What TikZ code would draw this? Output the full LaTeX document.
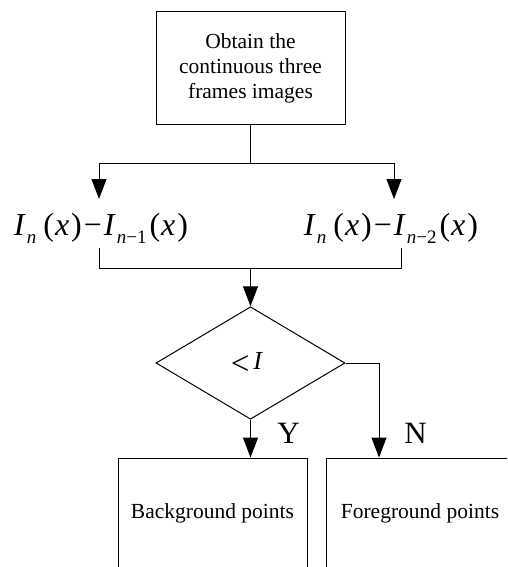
\documentclass[tikz,border=0pt]{standalone}
\usepackage{fontspec}
\setmainfont{Liberation Serif}
\usetikzlibrary{shapes.geometric,arrows.meta}
\newcommand{\subsz}[1]{\raisebox{-8pt}{\fontsize{19}{19}\selectfont #1}}
\begin{document}
\begin{tikzpicture}[x=1pt,y=-1pt,line width=1pt,
  box/.style={draw, rectangle, inner sep=0pt, line width=1pt},
  dia/.style={draw, diamond, inner sep=0pt, line width=1pt, minimum width=189pt, minimum height=112.5pt},
  lbl/.style={inner sep=0pt, font=\fontsize{21.5}{25}\selectfont, align=center},
  frm/.style={inner sep=0pt, anchor=base, font=\fontsize{32}{32}\selectfont},
  yn/.style={inner sep=0pt, anchor=base, font=\fontsize{31}{31}\selectfont},
  arr/.style={-{Triangle[width=15pt,length=20pt]}, line width=1pt}]
\useasboundingbox (0,0) rectangle (507,567);
\clip (0,0) rectangle (507,567);
% top box
\node[box, minimum width=189pt, minimum height=113pt] (top) at (250.5,68.2) {};
\node[lbl] (toptxt) at (250.5,68.5) {Obtain the\\continuous three\\frames images};
% formulas
\node[frm] (f1) at (101,235) {\textit{I}\kern1pt\subsz{\textit{n}}\kern7pt(\kern1pt\textit{x}\kern2pt)\kern2pt−\kern2pt\textit{I}\kern1pt\subsz{\textit{n}−1}\kern3pt(\kern1pt\textit{x}\kern2pt)};
\node[frm] (f2) at (391,235) {\textit{I}\kern1pt\subsz{\textit{n}}\kern7pt(\kern1pt\textit{x}\kern2pt)\kern2pt−\kern2pt\textit{I}\kern1pt\subsz{\textit{n}−2}\kern3pt(\kern1pt\textit{x}\kern2pt)};
% diamond
\node[dia] (d) at (250.5,363) {};
\node[inner sep=0pt, anchor=base, font=\fontsize{26}{26}\selectfont] (dtxt) at (247,369) {\raisebox{-5pt}{\fontsize{33}{33}\selectfont<}\kern4pt\textit{I}};
% bottom boxes
\node[box, minimum width=189pt, minimum height=150pt, anchor=north] (bg) at (212.5,457.5) {};
\node[box, minimum width=194pt, minimum height=150pt, anchor=north] (fg) at (423,457.5) {};
\node[lbl] (bgt) at (212.5,513) {Background points};
\node[lbl] (fgt) at (420,513) {Foreground points};
% Y / N
\node[yn] (ylab) at (288.5,443) {Y};
\node[yn] (nlab) at (415.5,443) {N};
% coordinates
\coordinate (split) at (250.5,163);
\coordinate (l1e) at (99,199);
\coordinate (r1e) at (394,199);
\coordinate (l2) at (99,248);
\coordinate (l2b) at (99,268);
\coordinate (r2) at (401,248);
\coordinate (r2b) at (401,268);
\coordinate (join) at (250.5,268);
\coordinate (yend) at (250.5,457.5);
\coordinate (nend) at (379,457.5);
% connectors
\draw (top.south) -- (split);
\draw[arr] (split) -| (l1e);
\draw[arr] (split) -| (r1e);
\draw (l2) -- (l2b) -- (r2b) -- (r2);
\draw[arr] (join) -- (d.north);
\draw[arr] (d.south) -- (yend);
\draw[arr] (d.east) -| (nend);
\end{tikzpicture}
\end{document}
